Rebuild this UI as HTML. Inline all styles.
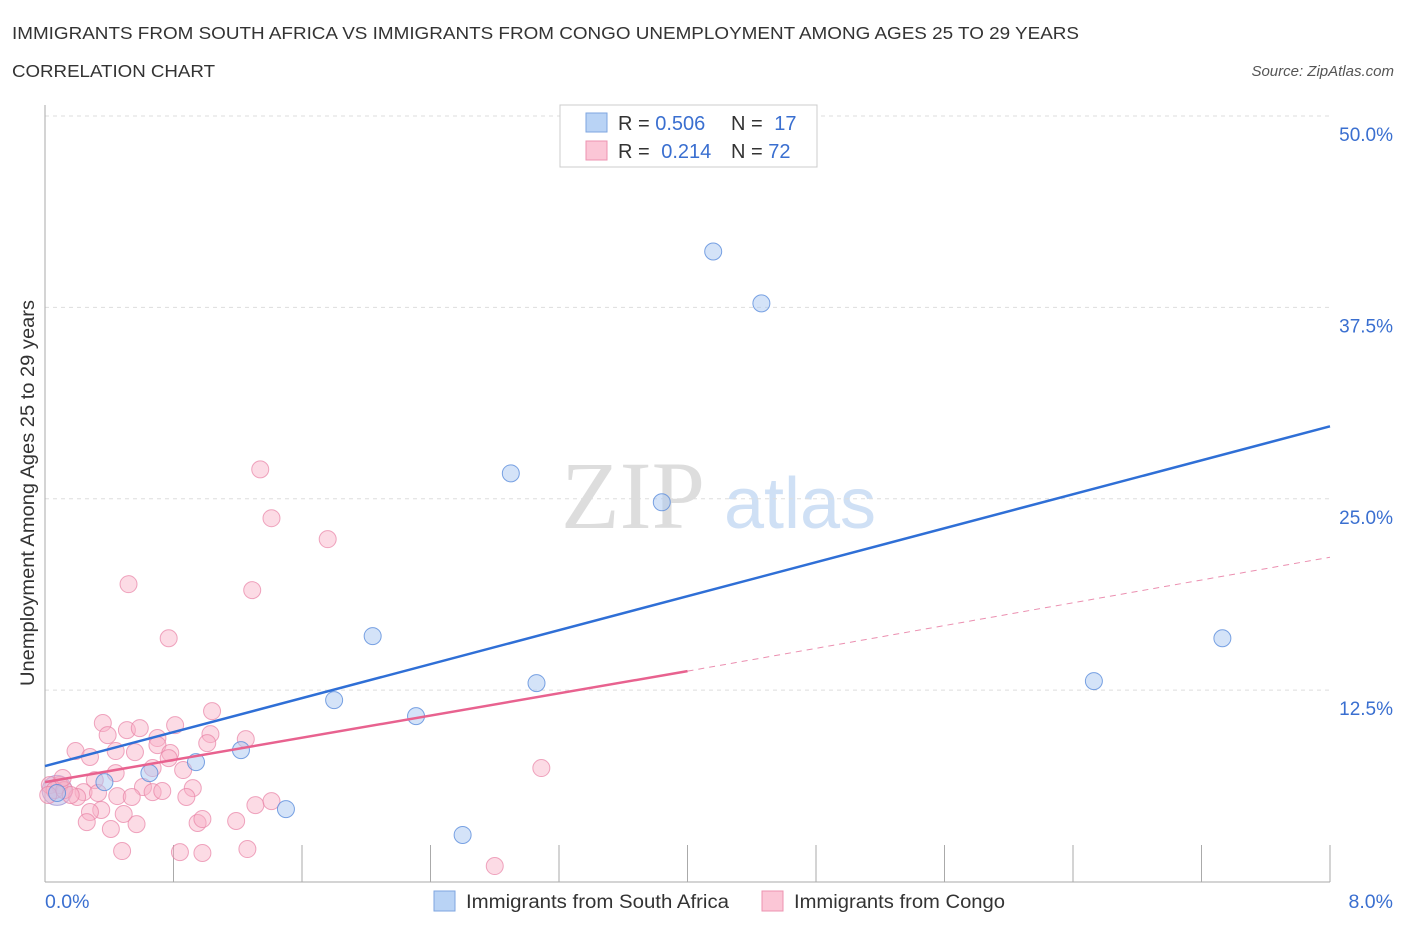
<!DOCTYPE html>
<html><head><meta charset="utf-8"><style>
body{margin:0;background:#fff;font-family:"Liberation Sans",sans-serif;}
svg text{font-family:"Liberation Sans",sans-serif;}
</style></head><body>
<svg id="chart" width="1406" height="930" xmlns="http://www.w3.org/2000/svg">
<text x="12" y="39" font-size="17.5" fill="#333" textLength="1067" lengthAdjust="spacingAndGlyphs">IMMIGRANTS FROM SOUTH AFRICA VS IMMIGRANTS FROM CONGO UNEMPLOYMENT AMONG AGES 25 TO 29 YEARS</text>
<text x="12" y="77" font-size="17.5" fill="#333" textLength="203" lengthAdjust="spacingAndGlyphs">CORRELATION CHART</text>
<text x="1394" y="76" font-size="15" fill="#555" font-style="italic" text-anchor="end">Source: ZipAtlas.com</text>
<text transform="translate(34,493) rotate(-90)" font-size="19" fill="#333" text-anchor="middle" textLength="386" lengthAdjust="spacingAndGlyphs">Unemployment Among Ages 25 to 29 years</text>
<g>
<text x="633" y="528" font-size="96" fill="#ddd" text-anchor="middle" style="font-family:'Liberation Serif',serif">ZIP</text>
<text x="800" y="528" font-size="72" fill="#cfe0f5" text-anchor="middle">atlas</text>
</g>
<g id="grid"></g><g id="axes"></g><g id="lines"></g><g id="points"></g>
<g>
<rect x="560" y="105" width="257" height="62" fill="#fff" stroke="#ccc"/>
<rect x="586" y="113" width="21" height="19" fill="#b9d3f5" stroke="#7ea6e0"/>
<rect x="586" y="141" width="21" height="19" fill="#fbc6d6" stroke="#ec93b0"/>
<text x="618" y="130" font-size="20" fill="#333">R = <tspan fill="#3a6fd0">0.506</tspan></text>
<text x="731" y="130" font-size="20" fill="#333">N = <tspan fill="#3a6fd0" dx="6">17</tspan></text>
<text x="618" y="158" font-size="20" fill="#333">R = <tspan fill="#3a6fd0" dx="6">0.214</tspan></text>
<text x="731" y="158" font-size="20" fill="#333">N = <tspan fill="#3a6fd0">72</tspan></text>
</g>
<g>
<rect x="434" y="891" width="21" height="20" fill="#b9d3f5" stroke="#7ea6e0"/>
<text x="466" y="908" font-size="19" fill="#333" textLength="263" lengthAdjust="spacingAndGlyphs">Immigrants from South Africa</text>
<rect x="762" y="891" width="21" height="20" fill="#fbc6d6" stroke="#ec93b0"/>
<text x="794" y="908" font-size="19" fill="#333" textLength="211" lengthAdjust="spacingAndGlyphs">Immigrants from Congo</text>
</g>
</svg>
<script>
const xTickLabels = ["0.0%", "8.0%"];
const yTicks = [12.5, 25, 37.5, 50];
const yTickLabels = ["12.5%", "25.0%", "37.5%", "50.0%"];
const blueX = [0.075,0.37,0.65,0.94,1.22,1.50,1.80,2.04,2.31,2.60,2.90,3.06,3.84,4.16,4.46,6.53,7.33];
const blueY = [5.78,6.49,7.08,7.80,8.58,4.73,11.85,16.03,10.80,3.04,26.66,12.96,24.77,41.15,37.76,13.09,15.89];
const pinkX = [0.36,0.39,0.51,0.59,0.81,1.04,1.03,1.01,1.25,0.19,0.28,0.44,0.56,0.70,0.70,0.78,0.77,0.86,0.44,0.67,0.31,0.09,0.24,0.33,0.20,0.61,0.67,0.73,0.92,0.88,0.45,0.54,0.35,0.28,0.49,0.26,0.41,0.57,0.95,0.98,1.19,1.31,1.41,0.48,0.84,0.98,1.26,0.03,0.06,0.12,0.16,0.02,0.11,1.34,1.41,1.76,0.52,1.29,0.77,3.09,2.80];
const pinkY = [10.35,9.56,9.89,10.02,10.21,11.13,9.63,9.04,9.30,8.52,8.13,8.52,8.45,9.37,8.91,8.39,8.06,7.28,7.08,7.41,6.62,6.30,5.84,5.78,5.52,6.17,5.84,5.91,6.10,5.52,5.58,5.52,4.67,4.54,4.41,3.88,3.43,3.75,3.82,4.08,3.95,4.99,5.25,1.99,1.92,1.86,2.12,6.30,5.97,5.97,5.65,5.65,6.76,26.92,23.73,22.36,19.42,19.03,15.89,7.41,1.01];
const blueLine = [0, 7.54, 8, 29.73];
const pinkSolid = [0, 6.49, 4.0, 13.74];
const pinkDash = [4.0, 13.74, 8, 21.18];

const NS="http://www.w3.org/2000/svg";
const X0=45,X1=1330,Y0=881.5,Y50=116;
const xs=v=>X0+(v/8)*(X1-X0);
const ys=v=>Y0-(v/50)*(Y0-Y50);
function mk(tag,attrs,parent){const e=document.createElementNS(NS,tag);for(const k in attrs)e.setAttribute(k,attrs[k]);parent.appendChild(e);return e;}
const grid=document.getElementById('grid'),axes=document.getElementById('axes'),lines=document.getElementById('lines'),pts=document.getElementById('points');
yTicks.forEach((t,i)=>{
  const l=mk('line',{x1:X0,x2:X1,y1:ys(t),y2:ys(t),stroke:'#ddd','stroke-dasharray':'4,4'},grid);
  
  
  const tx=mk('text',{x:1393,y:ys(t)+25,'font-size':19,fill:'#3a6fd0','text-anchor':'end'},axes);
  tx.textContent=yTickLabels[i];
  
  
});
const ax=mk('line',{x1:X0,x2:X0,y1:105,y2:882,stroke:'#aaa'},axes);


const bx=mk('line',{x1:X0,x2:X1,y1:882,y2:882,stroke:'#aaa'},axes);


for(let i=0;i<=10;i++){const t=mk('line',{x1:xs(i*0.8),x2:xs(i*0.8),y1:845,y2:882,stroke:'#aaa'},axes);
  
  }
const xl0=mk('text',{x:45,y:908,'font-size':19.5,fill:'#3a6fd0'},axes);xl0.textContent=xTickLabels[0];


const xl1=mk('text',{x:1393,y:908,'font-size':19.5,fill:'#3a6fd0','text-anchor':'end'},axes);xl1.textContent=xTickLabels[1];


const bc=mk('circle',{cx:xs(0.075),cy:ys(5.95),r:15,fill:'rgba(185,180,225,0.5)',stroke:'rgba(150,140,210,0.7)'},pts);


pinkX.forEach((x,i)=>{const c=mk('circle',{cx:xs(x),cy:ys(pinkY[i]),r:8.5,fill:'rgba(248,176,198,0.45)',stroke:'rgba(232,130,165,0.7)'},pts);
  
  });
blueX.forEach((x,i)=>{const c=mk('circle',{cx:xs(x),cy:ys(blueY[i]),r:8.5,fill:'rgba(170,200,242,0.5)',stroke:'rgba(90,140,220,0.8)'},pts);
  
  });
const bl=mk('line',{x1:xs(blueLine[0]),y1:ys(blueLine[1]),x2:xs(blueLine[2]),y2:ys(blueLine[3]),stroke:'#2f6fd6','stroke-width':2.5},pts);


const pl=mk('line',{x1:xs(pinkSolid[0]),y1:ys(pinkSolid[1]),x2:xs(pinkSolid[2]),y2:ys(pinkSolid[3]),stroke:'#e8628f','stroke-width':2.5},pts);


const pd=mk('line',{x1:xs(pinkDash[0]),y1:ys(pinkDash[1]),x2:xs(pinkDash[2]),y2:ys(pinkDash[3]),stroke:'#eb8fb0','stroke-width':1,'stroke-dasharray':'6,5'},pts);


</script>
</body></html>
